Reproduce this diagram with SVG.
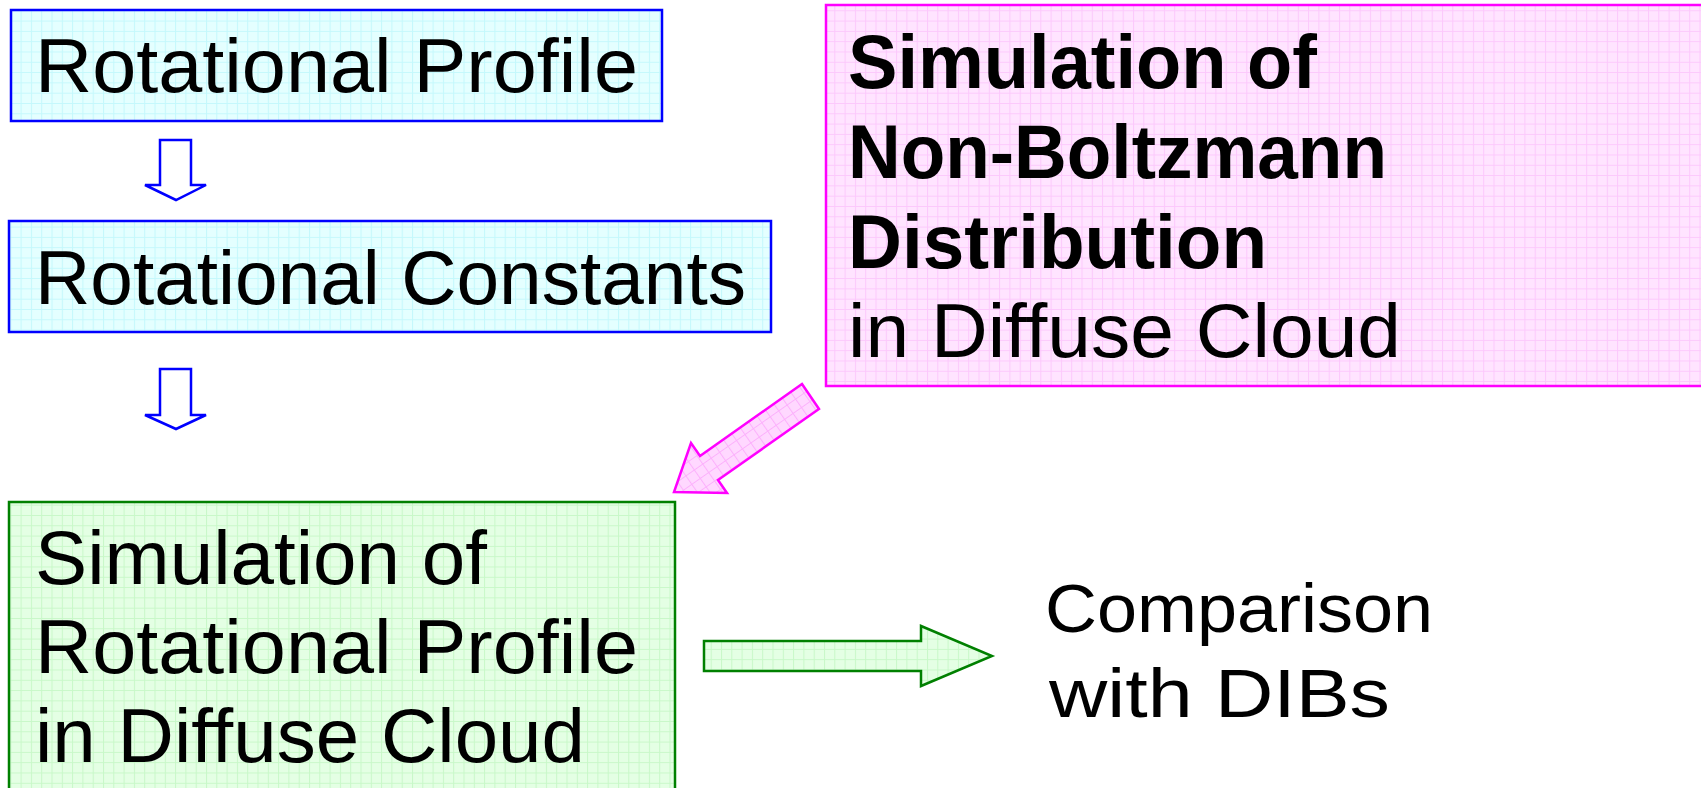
<svg xmlns="http://www.w3.org/2000/svg" width="1701" height="788" viewBox="0 0 1701 788">
<style>
.t{font-family:"Liberation Sans",Arial,sans-serif;font-size:76px;fill:#000}
.b{font-weight:bold}
.c{font-size:68px}
.blue{stroke:#0000ff;stroke-width:2.5}
.pink{stroke:#ff00ff;stroke-width:2.5}
.green{stroke:#008000;stroke-width:2.5}
</style>
<defs>
<pattern id="gb" width="10.3" height="10.3" patternUnits="userSpaceOnUse">
<rect width="10.3" height="10.3" fill="#e4ffff"/>
<path d="M0 0.5H10.3M0.5 0V10.3" stroke="#c4f8fc" stroke-width="1"/>
</pattern>
<pattern id="gp" width="10.3" height="10.3" patternUnits="userSpaceOnUse">
<rect width="10.3" height="10.3" fill="#ffe4ff"/>
<path d="M0 0.5H10.3M0.5 0V10.3" stroke="#fcc8fc" stroke-width="1"/>
</pattern>
<pattern id="gp2" width="10.3" height="10.3" patternUnits="userSpaceOnUse" patternTransform="rotate(-35)">
<rect width="10.3" height="10.3" fill="#ffd8ff"/>
<path d="M0 0.5H10.3M0.5 0V10.3" stroke="#fcb0fc" stroke-width="1"/>
</pattern>
<pattern id="gg" width="10.3" height="10.3" patternUnits="userSpaceOnUse">
<rect width="10.3" height="10.3" fill="#e4ffe4"/>
<path d="M0 0.5H10.3M0.5 0V10.3" stroke="#c8f8c8" stroke-width="1"/>
</pattern>
</defs>
<rect width="1701" height="788" fill="#fff"/>

<g id="node-rotational-profile">
<rect x="11" y="10" width="651" height="111" fill="url(#gb)" class="blue"/>
<text class="t" x="35" y="92" textLength="603" lengthAdjust="spacingAndGlyphs">Rotational Profile</text>
</g>

<g id="node-rotational-constants">
<rect x="9" y="221" width="762" height="111" fill="url(#gb)" class="blue"/>
<text class="t" x="35" y="304" textLength="711" lengthAdjust="spacingAndGlyphs">Rotational Constants</text>
</g>

<g id="node-non-boltzmann">
<rect x="826" y="5" width="890" height="381" fill="url(#gp)" class="pink"/>
<text class="t b" x="848" y="88" textLength="469" lengthAdjust="spacingAndGlyphs">Simulation of</text>
<text class="t b" x="848" y="178" textLength="539" lengthAdjust="spacingAndGlyphs">Non-Boltzmann</text>
<text class="t b" x="848" y="268" textLength="419" lengthAdjust="spacingAndGlyphs">Distribution</text>
<text class="t" x="848" y="357" textLength="553" lengthAdjust="spacingAndGlyphs">in Diffuse Cloud</text>
</g>

<g id="node-simulation">
<rect x="9" y="502" width="666" height="300" fill="url(#gg)" class="green"/>
<text class="t" x="35" y="584" textLength="452" lengthAdjust="spacingAndGlyphs">Simulation of</text>
<text class="t" x="35" y="673" textLength="603" lengthAdjust="spacingAndGlyphs">Rotational Profile</text>
<text class="t" x="35" y="762" textLength="550" lengthAdjust="spacingAndGlyphs">in Diffuse Cloud</text>
</g>

<g id="node-comparison">
<text class="t c" x="1045" y="632" textLength="388" lengthAdjust="spacingAndGlyphs">Comparison</text>
<text class="t c" x="1049" y="717" textLength="341" lengthAdjust="spacingAndGlyphs">with DIBs</text>
</g>

<g id="connectors">
<polygon points="160,140 191,140 191,185 206,185 176,200 145,185 160,185" fill="#fff" class="blue" stroke-linejoin="miter"/>
<polygon points="160,369 191,369 191,415 206,415 176,429 145,415 160,415" fill="#fff" class="blue"/>
<polygon points="802,384 819,409 718,480 727,493 674,492 691,443 700,456" fill="url(#gp2)" class="pink"/>
<polygon points="704,641 921,641 921,626 992,656 921,686 921,671 704,671" fill="url(#gg)" class="green"/>
</g>
</svg>
